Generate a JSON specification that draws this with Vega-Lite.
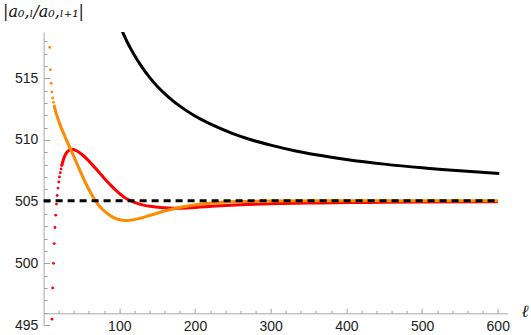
{
  "$schema": "https://vega.github.io/schema/vega-lite/v6.json",
  "width": 464,
  "height": 293,
  "autosize": {"type": "none"},
  "padding": {"left": 43.6, "top": 32, "right": 23.4, "bottom": 10},
  "background": "white",
  "config": {"view": {"stroke": null}, "axis": {"grid": false}},
  "datasets": {
    "redPts": [
      {"l": 11, "v": 495.47}, {"l": 12, "v": 498.0}, {"l": 13, "v": 500.0}, {"l": 14, "v": 501.6},
      {"l": 15, "v": 502.9}, {"l": 16, "v": 503.9}, {"l": 17, "v": 504.8}, {"l": 18, "v": 505.5},
      {"l": 19, "v": 506.1}, {"l": 20, "v": 506.6}, {"l": 21, "v": 507.0}, {"l": 22, "v": 507.35},
      {"l": 23, "v": 507.65}, {"l": 24, "v": 507.92}
    ],
    "redLine": [
      {"l": 24, "v": 507.92}, {"l": 26, "v": 508.38}, {"l": 28, "v": 508.7}, {"l": 30, "v": 508.93},
      {"l": 33, "v": 509.13}, {"l": 36, "v": 509.23}, {"l": 38, "v": 509.25}, {"l": 41, "v": 509.19},
      {"l": 44, "v": 509.1}, {"l": 48, "v": 508.95}, {"l": 52, "v": 508.76}, {"l": 57, "v": 508.47},
      {"l": 63, "v": 508.08}, {"l": 70, "v": 507.6}, {"l": 75, "v": 507.25}, {"l": 80, "v": 506.9},
      {"l": 88, "v": 506.38}, {"l": 94, "v": 506.0}, {"l": 101, "v": 505.62}, {"l": 107, "v": 505.34},
      {"l": 114, "v": 505.1}, {"l": 122, "v": 504.9}, {"l": 132, "v": 504.72}, {"l": 143, "v": 504.6},
      {"l": 154, "v": 504.52}, {"l": 165, "v": 504.475}, {"l": 176, "v": 504.46}, {"l": 190, "v": 504.49},
      {"l": 206, "v": 504.56}, {"l": 228, "v": 504.65}, {"l": 260, "v": 504.75}, {"l": 300, "v": 504.83},
      {"l": 350, "v": 504.88}, {"l": 400, "v": 504.92}, {"l": 450, "v": 504.95}, {"l": 500, "v": 504.97},
      {"l": 600, "v": 505.0}
    ],
    "orangePts": [
      {"l": 8, "v": 517.5}, {"l": 9, "v": 515.7}, {"l": 10, "v": 514.6}, {"l": 11, "v": 513.9},
      {"l": 12, "v": 513.4}, {"l": 13, "v": 513.05}, {"l": 14, "v": 512.75}
    ],
    "orangeLine": [
      {"l": 14, "v": 512.75}, {"l": 16, "v": 512.3}, {"l": 18, "v": 511.9}, {"l": 20, "v": 511.53},
      {"l": 22, "v": 511.18}, {"l": 25, "v": 510.73}, {"l": 28, "v": 510.3}, {"l": 31, "v": 509.88},
      {"l": 34, "v": 509.47}, {"l": 37, "v": 509.06}, {"l": 40, "v": 508.64}, {"l": 44, "v": 508.08},
      {"l": 48, "v": 507.52}, {"l": 52, "v": 506.97}, {"l": 56, "v": 506.45}, {"l": 60, "v": 505.96},
      {"l": 64, "v": 505.51}, {"l": 68, "v": 505.11}, {"l": 72, "v": 504.77}, {"l": 76, "v": 504.49},
      {"l": 80, "v": 504.25}, {"l": 86, "v": 503.95}, {"l": 92, "v": 503.72}, {"l": 98, "v": 503.57},
      {"l": 104, "v": 503.49}, {"l": 110, "v": 503.465}, {"l": 118, "v": 503.52}, {"l": 127, "v": 503.65},
      {"l": 140, "v": 503.88}, {"l": 150, "v": 504.06}, {"l": 162, "v": 504.27}, {"l": 175, "v": 504.46},
      {"l": 190, "v": 504.64}, {"l": 206, "v": 504.78}, {"l": 230, "v": 504.93}, {"l": 260, "v": 505.01},
      {"l": 300, "v": 505.05}, {"l": 400, "v": 505.07}, {"l": 500, "v": 505.08}, {"l": 600, "v": 505.08}
    ],
    "black": [
      {"l": 104, "v": 518.8}, {"l": 110, "v": 518.0}, {"l": 115, "v": 517.4}, {"l": 120, "v": 516.87},
      {"l": 130, "v": 515.9}, {"l": 140, "v": 515.07}, {"l": 150, "v": 514.36}, {"l": 165, "v": 513.48},
      {"l": 180, "v": 512.74}, {"l": 200, "v": 511.94}, {"l": 220, "v": 511.3}, {"l": 250, "v": 510.52},
      {"l": 275, "v": 510.0}, {"l": 300, "v": 509.58}, {"l": 330, "v": 509.15}, {"l": 360, "v": 508.8},
      {"l": 400, "v": 508.42}, {"l": 450, "v": 508.04}, {"l": 500, "v": 507.74}, {"l": 550, "v": 507.5},
      {"l": 602, "v": 507.29}
    ],
    "dash": [{"l": 0, "v": 505.08}, {"l": 600, "v": 505.08}]
  },
  "encoding": {
    "x": {
      "field": "l",
      "type": "quantitative",
      "scale": {"domain": [0, 613], "nice": false, "zero": false},
      "axis": {
        "values": [20, 40, 60, 80, 100, 120, 140, 160, 180, 200, 220, 240, 260, 280, 300, 320, 340, 360, 380, 400, 420, 440, 460, 480, 500, 520, 540, 560, 580, 600],
        "format": "d",
        "labelExpr": "datum.value % 100 === 0 ? datum.label : ''",
        "tickSize": {"condition": {"test": "datum.value % 100 === 0", "value": -5}, "value": -3},
        "offset": -11.7,
        "domainColor": "#a8a8a8",
        "tickColor": "#a0a0a0",
        "domainWidth": 1,
        "tickWidth": 1,
        "labelFont": "Liberation Sans",
        "labelFontSize": 14,
        "labelColor": "#222222",
        "labelPadding": 11,
        "labelFlush": false,
        "labelOverlap": false,
        "title": "ℓ",
        "titleFont": "Liberation Serif",
        "titleFontStyle": "italic",
        "titleFontWeight": "normal",
        "titleFontSize": 17,
        "titleColor": "#111111",
        "titleX": 481,
        "titleY": 3.4,
        "titleAlign": "center",
        "titleBaseline": "alphabetic",
        "titleAngle": 0
      }
    },
    "y": {
      "field": "v",
      "type": "quantitative",
      "scale": {"domain": [495, 518.75], "nice": false, "zero": false},
      "axis": {
        "values": [495, 496, 497, 498, 499, 500, 501, 502, 503, 504, 505, 506, 507, 508, 509, 510, 511, 512, 513, 514, 515, 516, 517, 518],
        "format": "d",
        "labelExpr": "datum.value % 5 === 0 ? datum.label : ''",
        "tickSize": {"condition": {"test": "datum.value % 5 === 0", "value": -6}, "value": -3.5},
        "domainColor": "#a8a8a8",
        "tickColor": "#a0a0a0",
        "domainWidth": 1,
        "tickWidth": 1,
        "labelFont": "Liberation Sans",
        "labelFontSize": 14,
        "labelColor": "#222222",
        "labelPadding": 11.7,
        "labelFlush": false,
        "labelOverlap": false,
        "title": "|a₀,ₗ/a₀,ₗ₊₁|",
        "titleFont": "DejaVu Serif",
        "titleFontStyle": "italic",
        "titleFontWeight": "normal",
        "titleFontSize": 16,
        "titleColor": "#111111",
        "titleAngle": 0,
        "titleX": -41,
        "titleY": -15.3,
        "titleAlign": "left",
        "titleBaseline": "alphabetic"
      }
    }
  },
  "layer": [
    {"data": {"name": "redLine"}, "mark": {"type": "line", "color": "#ff0000", "strokeWidth": 3, "interpolate": "monotone"}},
    {"data": {"name": "redPts"}, "mark": {"type": "circle", "color": "#ff0000", "size": 8, "opacity": 1}},
    {"data": {"name": "orangeLine"}, "mark": {"type": "line", "color": "#ff8a00", "strokeWidth": 3, "interpolate": "monotone"}},
    {"data": {"name": "orangePts"}, "mark": {"type": "circle", "color": "#ff8a00", "size": 8, "opacity": 1}},
    {"data": {"name": "black"}, "mark": {"type": "line", "color": "#000000", "strokeWidth": 3, "interpolate": "monotone", "clip": true}},
    {"data": {"name": "dash"}, "mark": {"type": "line", "color": "#000000", "strokeWidth": 3, "strokeDash": [7, 5]}}
  ]
}
